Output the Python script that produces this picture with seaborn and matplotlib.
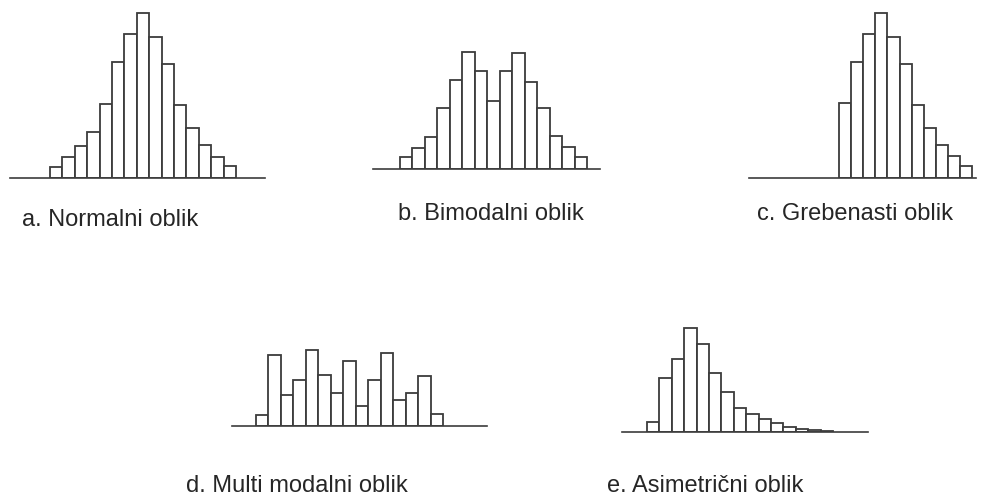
import matplotlib
matplotlib.use("Agg")
import matplotlib.pyplot as plt
import seaborn as sns

sns.set_theme(style="white")
plt.rcParams["font.family"] = ["Liberation Sans", "DejaVu Sans"]

W, H = 992, 499

# Bar heights (frequencies) for each histogram shape
normal_vals = [11, 21, 32, 46, 74, 116, 144, 165, 141, 114, 73, 50, 33, 21, 12]
bimodal_vals = [12, 21, 32, 61, 89, 117, 98, 68, 98, 116, 87, 61, 33, 22, 12]
comb_vals = [75, 116, 144, 165, 141, 114, 73, 50, 33, 22, 12]
multimodal_vals = [11, 71, 31, 46, 76, 51, 33, 65, 20, 46, 73, 26, 33, 50, 12]
skewed_vals = [10, 54, 73, 104, 88, 59, 40, 24, 18, 13, 9, 5, 3, 2, 1]

labels = [
    "a. Normalni oblik",
    "b. Bimodalni oblik",
    "c. Grebenasti oblik",
    "d. Multi modalni oblik",
    "e. Asimetrični oblik",
]

# layout per panel: axis line x0, x1, baseline y, first bar left edge, bar width (pixels)
panels = [
    (normal_vals, 10, 265, 178, 50, 12.4),
    (bimodal_vals, 373, 600, 169, 400, 12.47),
    (comb_vals, 749, 976, 178, 839, 12.1),
    (multimodal_vals, 232, 487, 426, 256, 12.47),
    (skewed_vals, 622, 868, 432, 647, 12.4),
]
label_pos = [(22, 226), (398, 220), (757, 220), (186, 492), (607, 492)]

edge = "#3c3c3c"
fig = plt.figure(figsize=(W / 100, H / 100), dpi=100)
fig.patch.set_facecolor("white")

for vals, x0, x1, base, bar0, bw in panels:
    top = 175
    ax = fig.add_axes([x0 / W, (H - base) / H, (x1 - x0) / W, top / H])
    sns.barplot(x=list(range(len(vals))), y=vals, width=1.0, color="white",
                saturation=1, edgecolor=edge, linewidth=1.3, ax=ax)
    left = -0.5 - (bar0 - x0) / bw
    ax.set_xlim(left, left + (x1 - x0) / bw)
    ax.set_ylim(0, top)
    ax.set_facecolor("none")
    for s in ["top", "left", "right"]:
        ax.spines[s].set_visible(False)
    ax.spines["bottom"].set_color(edge)
    ax.spines["bottom"].set_linewidth(1.2)
    ax.set_xticks([])
    ax.set_yticks([])
    ax.set_xlabel("")
    ax.set_ylabel("")

for text, (tx, ty) in zip(labels, label_pos):
    fig.text(tx / W, 1 - ty / H, text, fontsize=17, color="#262626",
             ha="left", va="baseline")

fig.savefig("out.png", dpi=100, facecolor="white")
